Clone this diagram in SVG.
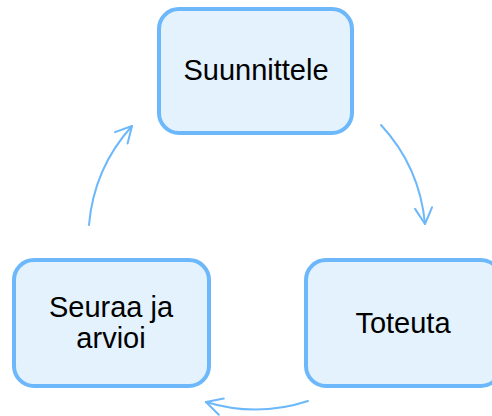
<svg xmlns="http://www.w3.org/2000/svg" width="492" height="416" viewBox="0 0 492 416">
  <style>
    .box { fill: #e3f2fd; stroke: #6cb8fa; stroke-width: 4; }
    .lbl { font-family: "Liberation Sans", Arial, sans-serif; font-size: 29px; fill: #000; text-anchor: middle; }
    .conn { fill: none; stroke: #6cb8fa; stroke-width: 2; stroke-linecap: round; }
  </style>
  <defs>
    <marker id="arr" markerUnits="userSpaceOnUse" markerWidth="24" markerHeight="24" viewBox="-20 -12 24 24" refX="0" refY="0" orient="auto" overflow="visible">
      <path d="M-16,-8.5 L0,0 L-16,8.5" fill="none" stroke="#6cb8fa" stroke-width="2" stroke-linecap="round" stroke-linejoin="round"/>
    </marker>
  </defs>
  <rect width="492" height="416" fill="#ffffff"/>
  <g id="connectors">
    <path class="conn" d="M381,125 A169,169 0 0 1 425,224" marker-end="url(#arr)"/>
    <path class="conn" d="M308,401 A169,169 0 0 1 206,402" marker-end="url(#arr)"/>
    <path class="conn" d="M89,225 A169,169 0 0 1 132,126" marker-end="url(#arr)"/>
  </g>
  <g id="node-suunnittele">
    <rect class="box" x="159" y="9" width="193" height="124" rx="20" ry="20"/>
    <text class="lbl" x="256" y="80">Suunnittele</text>
  </g>
  <g id="node-toteuta">
    <rect class="box" x="306" y="260" width="195" height="126" rx="20" ry="20"/>
    <text class="lbl" x="403" y="333">Toteuta</text>
  </g>
  <g id="node-seuraa">
    <rect class="box" x="14" y="260" width="195" height="126" rx="20" ry="20"/>
    <text class="lbl" x="111" y="317">Seuraa ja</text>
    <text class="lbl" x="111" y="348">arvioi</text>
  </g>
</svg>
